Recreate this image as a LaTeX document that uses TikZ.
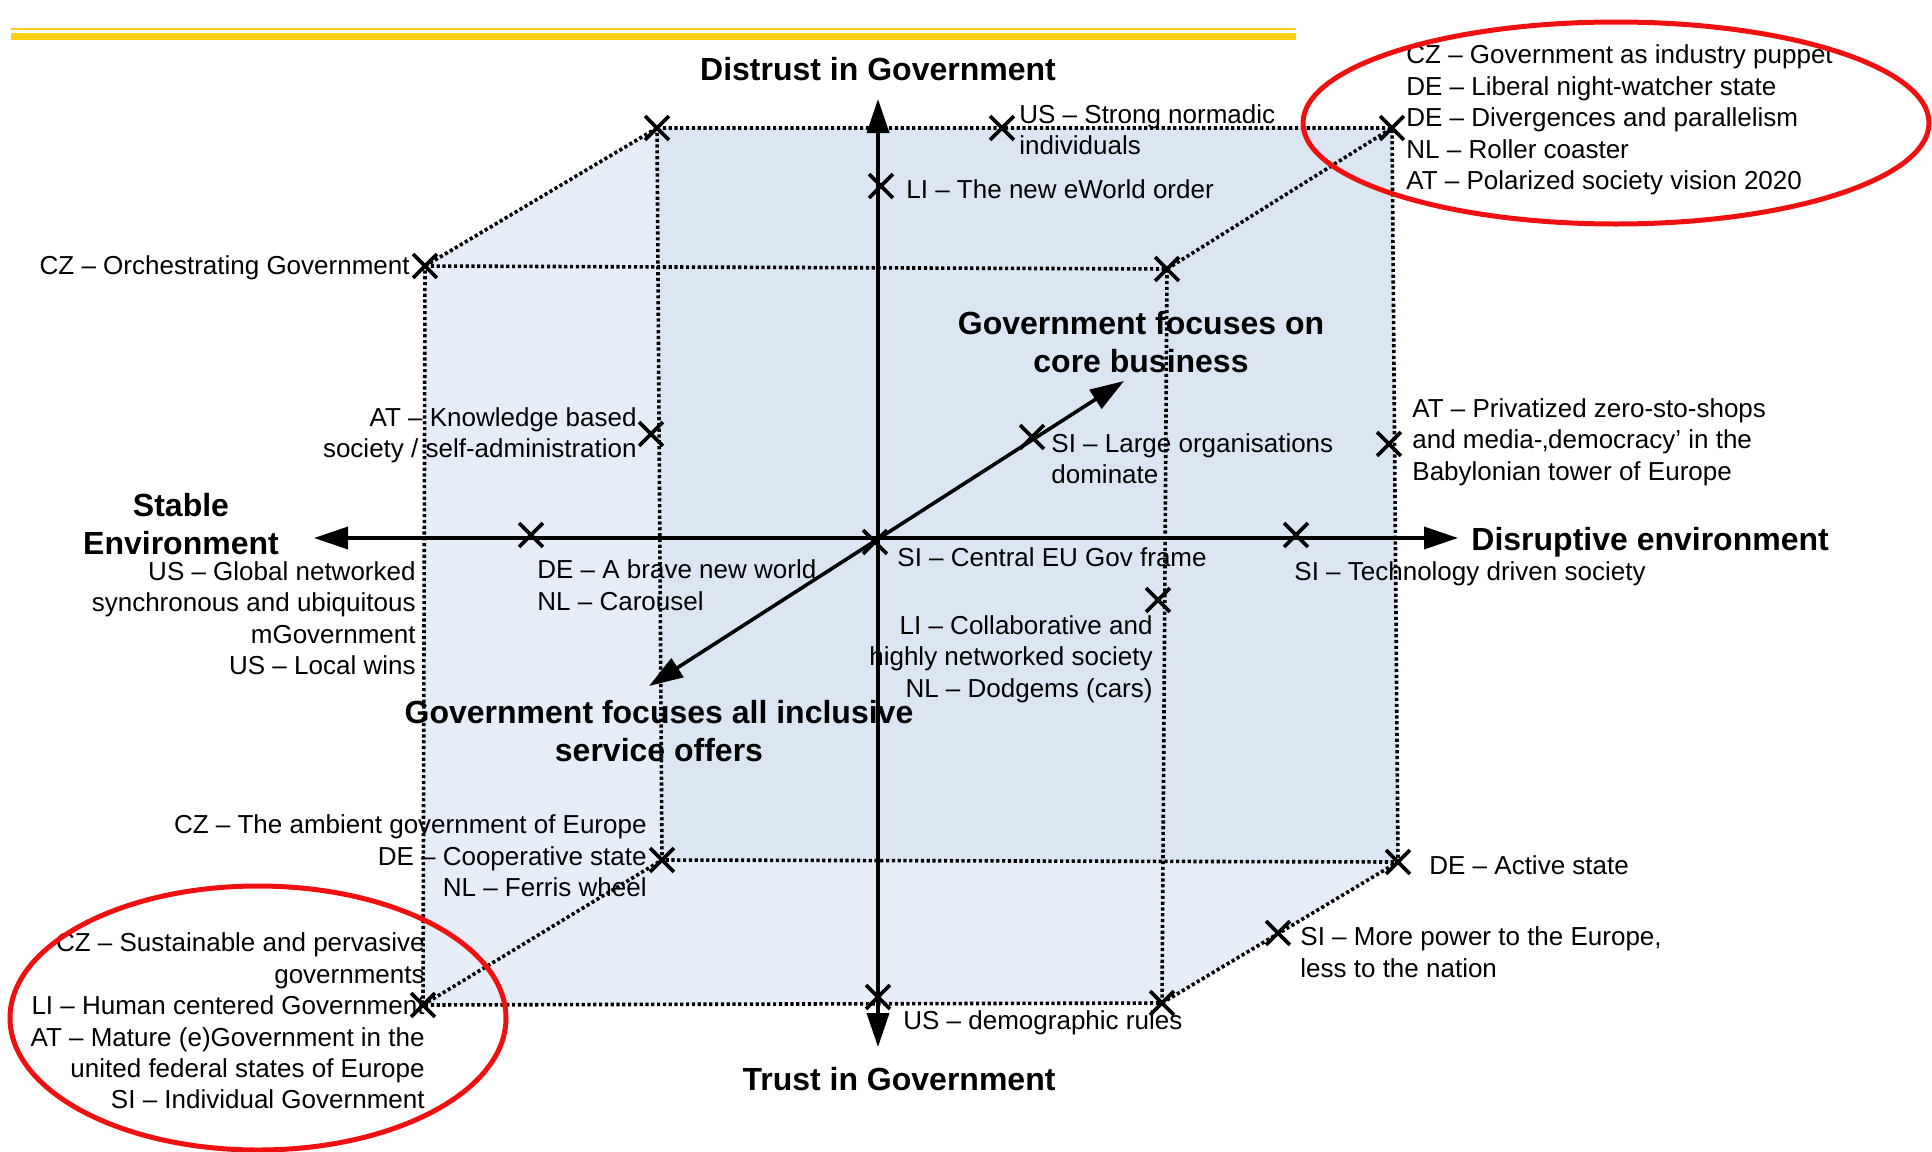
\documentclass[tikz,border=0pt]{standalone}
\usepackage{fontspec}
\setmainfont{Liberation Sans}
\usepackage{xcolor}
\definecolor{backblue}{HTML}{DCE6F2}
\definecolor{frontblue}{HTML}{E7EDF7}
\definecolor{baryellow}{HTML}{FFD010}
\definecolor{ringred}{HTML}{F01010}
\usetikzlibrary{arrows.meta, positioning, shapes.misc}

\tikzset{
  xmark/.style={cross out, draw, line width=1.9pt, minimum size=10pt, inner sep=0pt},
  lbl/.style={inner sep=0pt, font=\fontsize{13}{15.7}\selectfont},
  ttl/.style={inner sep=0pt, align=center, font=\fontsize{16}{19}\selectfont\bfseries},
  cubeedge/.style={line width=1.8pt, dash pattern=on 1.6pt off 1.3pt},
  mainaxis/.style={line width=1.8pt, {Triangle[length=17pt,width=11pt]}-{Triangle[length=17pt,width=11pt]}},
  ring/.style={draw=ringred, line width=2.5pt},
}

\begin{document}
\begin{tikzpicture}[x=0.5pt, y=-0.5pt]
  \useasboundingbox (0,0) rectangle (1932,1151);

  % Header bars
  \draw[baryellow, line width=1pt] (11,29) -- (1296,29);
  \draw[baryellow, line width=3.5pt] (11,36.5) -- (1296,36.5);

  % Cube corners
  \coordinate (bTL) at (657,128);
  \coordinate (bTR) at (1392,128);
  \coordinate (bBR) at (1398,862);
  \coordinate (bBL) at (662,860);
  \coordinate (fTL) at (425,266);
  \coordinate (fTR) at (1167,269);
  \coordinate (fBR) at (1162,1003);
  \coordinate (fBL) at (423,1005);

  % Shading of the cube
  \fill[frontblue] (fBL) -- (fTL) -- (bTL) -- (bTR) -- (bBR) -- (fBR) -- cycle;
  \fill[backblue] (bTL) -- (bTR) -- (bBR) -- (bBL) -- cycle;

  % Cube edges
  \draw[cubeedge] (bTL) -- (bTR) -- (bBR) -- (bBL) -- cycle;
  \draw[cubeedge] (fTL) -- (fTR) -- (fBR) -- (fBL) -- cycle;
  \draw[cubeedge] (fTL) -- (bTL);
  \draw[cubeedge] (fTR) -- (bTR);
  \draw[cubeedge] (fBR) -- (bBR);
  \draw[cubeedge] (fBL) -- (bBL);

  % Axes
  \coordinate (axT) at (878,99);
  \coordinate (axB) at (878,1047);
  \coordinate (axL) at (314,538);
  \coordinate (axR) at (1458,538);
  \coordinate (dUR) at (1124,381);
  \coordinate (dLL) at (649,686);
  \draw[mainaxis] (axB) -- (axT);
  \draw[mainaxis] (axL) -- (axR);
  \draw[mainaxis] (dLL) -- (dUR);

  % Marks on the corners
  \foreach \c in {bTL,bTR,bBR,bBL,fTL,fTR,fBR,fBL}
    \node[xmark] (x\c) at (\c) {};

  % Scenario marks
  \node[xmark] (xUS) at (1002,128) {};
  \node[xmark] (xLI) at (881,186) {};
  \node[xmark] (xAT) at (651,434) {};
  \node[xmark] (xSIl) at (1032,437) {};
  \node[xmark] (xATp) at (1389,444) {};
  \node[xmark] (xDE) at (531,535) {};
  \node[xmark] (xC) at (875,542) {};
  \node[xmark] (xSIt) at (1296,535) {};
  \node[xmark] (xLIc) at (1158,600) {};
  \node[xmark] (xSIp) at (1278,933) {};
  \node[xmark] (xUSd) at (878,997) {};

  % Axis titles
  \node[ttl] (tDist) at (878,69) {Distrust in Government};
  \node[ttl] (tTrust) at (899,1079) {Trust in Government};
  \node[ttl] (tStable) at (181,524) {Stable\\Environment};
  \node[ttl, anchor=west] (tDisr) at (1471,542) {Disruptive environment};
  \node[ttl] (tCore) at (1141,342) {Government focuses on\\core business};
  \node[ttl] (tIncl) at (659,731) {Government focuses all inclusive\\service offers};

  % Scenario labels
  \node[lbl, anchor=west, align=left] (lUS) at (1019,130) {US – Strong normadic\\individuals};
  \node[lbl, anchor=west] (lLI) at (906,189) {LI – The new eWorld order};
  \node[lbl, anchor=east] (lCZ) at (410,268) {CZ – Orchestrating Government};
  \node[lbl, anchor=east, align=right] (lAT) at (637,435) {AT – Knowledge based\\society / self-administration};
  \node[lbl, anchor=west, align=left] (lSIl) at (1051,459) {SI – Large organisations\\dominate};
  \node[lbl, anchor=west, align=left] (lATp) at (1412,442) {AT – Privatized zero-sto-shops\\and media-‚democracy’ in the\\Babylonian tower of Europe};
  \node[lbl, anchor=west, align=left] (lDE) at (537,585) {DE – A brave new world\\NL – Carousel};
  \node[lbl, anchor=west] (lC) at (897,557) {SI – Central EU Gov frame};
  \node[lbl, anchor=west] (lSIt) at (1294,574) {SI – Technology driven society};
  \node[lbl, anchor=east, align=right] (lLIc) at (1153,659) {LI – Collaborative and\\highly networked society\\NL – Dodgems (cars)};
  \node[lbl, anchor=east, align=right] (lUSg) at (416,618) {US – Global networked\\synchronous and ubiquitous\\mGovernment\\US – Local wins};
  \node[lbl, anchor=east, align=right] (lCZa) at (647,856) {CZ – The ambient government of Europe\\DE – Cooperative state\\NL – Ferris wheel};
  \node[lbl, anchor=west] (lDEa) at (1429,865) {DE – Active state};
  \node[lbl, anchor=west, align=left] (lSIp) at (1300,952) {SI – More power to the Europe,\\less to the nation};
  \node[lbl, anchor=west] (lUSd) at (903,1023) {US – demographic rules};
  \node[lbl, anchor=east, align=right] (lCZs) at (425,1021) {CZ – Sustainable and pervasive\\governments\\LI – Human centered Government\\AT – Mature (e)Government in the\\united federal states of Europe\\SI – Individual Government};
  \node[lbl, anchor=west, align=left] (lCZp) at (1406,120) {CZ – Government as industry puppet\\DE – Liberal night-watcher state\\DE – Divergences and parallelism\\NL – Roller coaster\\AT – Polarized society vision 2020};

  % Highlight rings
  \draw[ring] (1616,123) ellipse [x radius=156.5pt, y radius=50.5pt];
  \draw[ring] (258,1018) ellipse [x radius=124pt, y radius=66pt];
\end{tikzpicture}
\end{document}
